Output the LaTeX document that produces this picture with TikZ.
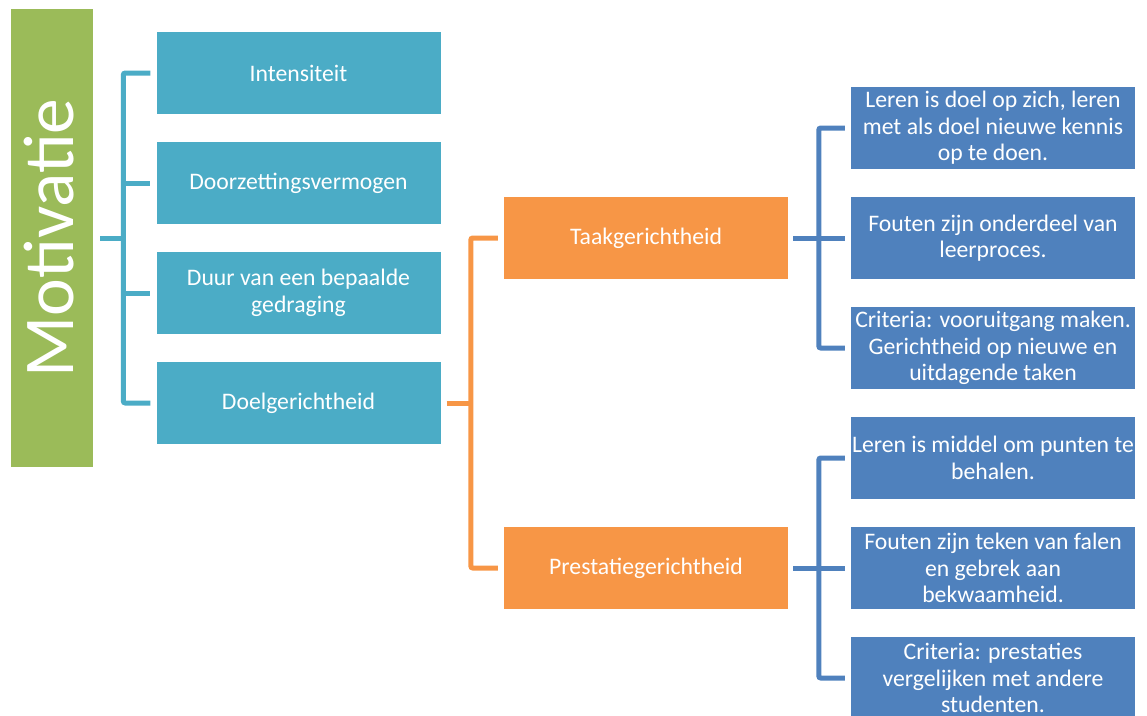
\documentclass[tikz,border=0pt]{standalone}
\usepackage{fontspec}
\setmainfont{Carlito}
\definecolor{mgreen}{HTML}{9BBB59}
\definecolor{mteal}{HTML}{4BACC6}
\definecolor{morange}{HTML}{F79646}
\definecolor{mblue}{HTML}{4F81BD}
\begin{document}
\begin{tikzpicture}[x=1pt,y=-1pt,
  box/.style={minimum width=284pt, minimum height=82pt, inner sep=1pt,
    text=white, align=center, font=\fontsize{23.7}{26.5}\selectfont},
  tealbox/.style={box, fill=mteal},
  orangebox/.style={box, fill=morange},
  bluebox/.style={box, fill=mblue},
  link/.style={line width=5pt, rounded corners=2pt}]
\useasboundingbox (0,0) rectangle (1147,715);

% root
\node[fill=mgreen, minimum width=82pt, minimum height=458pt, inner sep=0pt] (mot) at (52,238) {};
\node[rotate=90, text=white, font=\fontsize{71.5}{72}\selectfont, inner sep=0pt] (motl) at ([xshift=-3pt]mot.center) {Motivatie};

% first level
\node[tealbox] (i1) at (298.5,73) {Intensiteit};
\node[tealbox] (i2) at (298.5,183) {Doorzettingsvermogen};
\node[tealbox] (i3) at (298.5,293) {Duur van een bepaalde\\gedraging};
\node[tealbox] (i4) at (298.5,403) {Doelgerichtheid};

% second level
\node[orangebox] (t) at (646,238) {Taakgerichtheid};
\node[orangebox] (p) at (646,568) {Prestatiegerichtheid};

% third level
\node[bluebox] (t1) at (993,128) {Leren is doel op zich, leren\\met als doel nieuwe kennis\\op te doen.};
\node[bluebox] (t2) at (993,238) {Fouten zijn onderdeel van\\leerproces.};
\node[bluebox] (t3) at (993,348) {Criteria: vooruitgang maken.\\Gerichtheid op nieuwe en\\uitdagende taken};
\node[bluebox] (p1) at (993,458) {Leren is middel om punten te\\behalen.};
\node[bluebox] (p2) at (993,568) {Fouten zijn teken van falen\\en gebrek aan\\bekwaamheid.};
\node[bluebox] (p3) at (993,678) {Criteria: prestaties\\vergelijken met andere\\studenten.};

% teal bracket
\draw[link, mteal] ([xshift=-6pt]i1.west) -- ([xshift=-33pt]i1.west) -- ([xshift=-33pt]i4.west) -- ([xshift=-6pt]i4.west);
\draw[link, mteal] ([xshift=-33pt]i2.west) -- ([xshift=-6pt]i2.west);
\draw[link, mteal] ([xshift=-33pt]i3.west) -- ([xshift=-6pt]i3.west);
\draw[link, mteal] ([xshift=7pt]mot.east) -- ([xshift=-33pt]i1.west |- mot.east);

% orange bracket
\draw[link, morange] ([xshift=-6pt]t.west) -- ([xshift=-33pt]t.west) -- ([xshift=-33pt]p.west) -- ([xshift=-6pt]p.west);
\draw[link, morange] ([xshift=6pt]i4.east) -- ([xshift=-33pt]t.west |- i4.east);

% blue brackets
\draw[link, mblue] ([xshift=-6pt]t1.west) -- ([xshift=-32pt]t1.west) -- ([xshift=-32pt]t3.west) -- ([xshift=-6pt]t3.west);
\draw[link, mblue] ([xshift=5pt]t.east) -- ([xshift=-6pt]t2.west);
\draw[link, mblue] ([xshift=-6pt]p1.west) -- ([xshift=-32pt]p1.west) -- ([xshift=-32pt]p3.west) -- ([xshift=-6pt]p3.west);
\draw[link, mblue] ([xshift=5pt]p.east) -- ([xshift=-6pt]p2.west);
\end{tikzpicture}
\end{document}
